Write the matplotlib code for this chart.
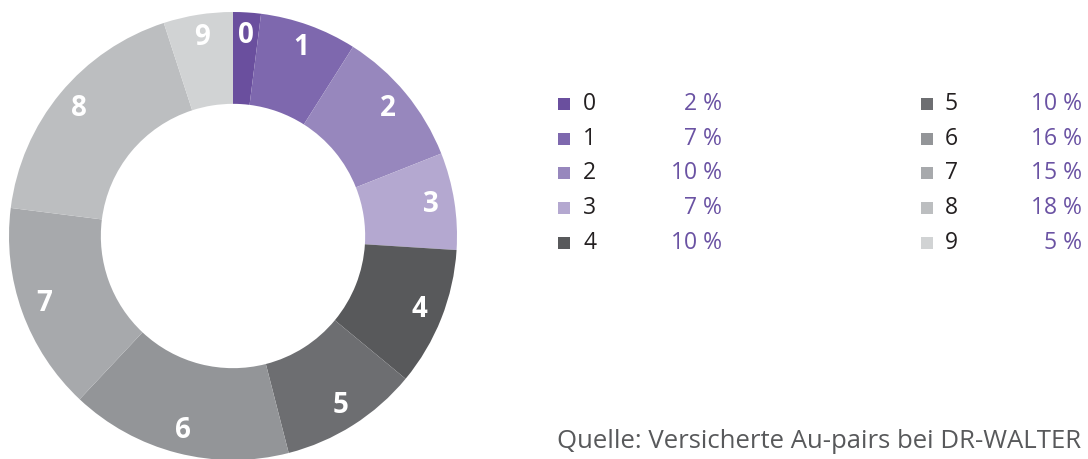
import matplotlib
matplotlib.use('Agg')
import matplotlib.pyplot as plt
from matplotlib.patches import Rectangle
import numpy as np

plt.rcParams['font.family'] = ['Open Sans', 'DejaVu Sans']

categories = ['0', '1', '2', '3', '4', '5', '6', '7', '8', '9']
shares = [2, 7, 10, 7, 10, 10, 16, 15, 18, 5]
colors = ['#6a4f9e', '#7e68ae', '#9787bd', '#b4a8d0', '#58595b',
          '#6d6e71', '#939598', '#a7a9ac', '#bcbec0', '#d1d3d4']
source = 'Quelle: Versicherte Au-pairs bei DR-WALTER'

W, H = 1088, 459
fig = plt.figure(figsize=(W / 100, H / 100), dpi=100)

# donut, centre at about (233, 236) px, outer radius 224 px
cx, cy, R = 233, 236, 224
ax = fig.add_axes([(cx - R) / W, (H - cy - R) / H, 2 * R / W, 2 * R / H])
wedges, _ = ax.pie(shares, colors=colors, startangle=90, counterclock=False,
                   radius=1.0, wedgeprops=dict(width=0.41, linewidth=0))
ax.set_xlim(-1, 1)
ax.set_ylim(-1, 1)
ax.axis('off')

for w, lab in zip(wedges, categories):
    ang = np.deg2rad((w.theta1 + w.theta2) / 2)
    ax.text(0.895 * np.cos(ang), 0.895 * np.sin(ang), lab, color='white',
            fontsize=20, fontweight='bold', ha='center', va='center',
            fontstretch='condensed')

# legend in pixel coordinates
lg = fig.add_axes([0, 0, 1, 1])
lg.set_xlim(0, W)
lg.set_ylim(H, 0)
lg.axis('off')

row_y = [103, 138, 172, 207, 242]
cols = [(558, 583, 722), (921, 945, 1082)]
for i, (lab, val, col) in enumerate(zip(categories, shares, colors)):
    sx, nx, px = cols[i // 5]
    y = row_y[i % 5]
    lg.add_patch(Rectangle((sx, y - 5.5), 12, 12, facecolor=col, linewidth=0))
    lg.text(nx, y + 1, lab, color='#231f20', fontsize=16.5, ha='left', va='center')
    lg.text(px, y + 1, '%d %%' % val, color='#6a52a3', fontsize=16.5,
            ha='right', va='center')

lg.text(557, 442, source, color='#58595b', fontsize=18.5, ha='left', va='center')

fig.savefig('out.png', dpi=100)
